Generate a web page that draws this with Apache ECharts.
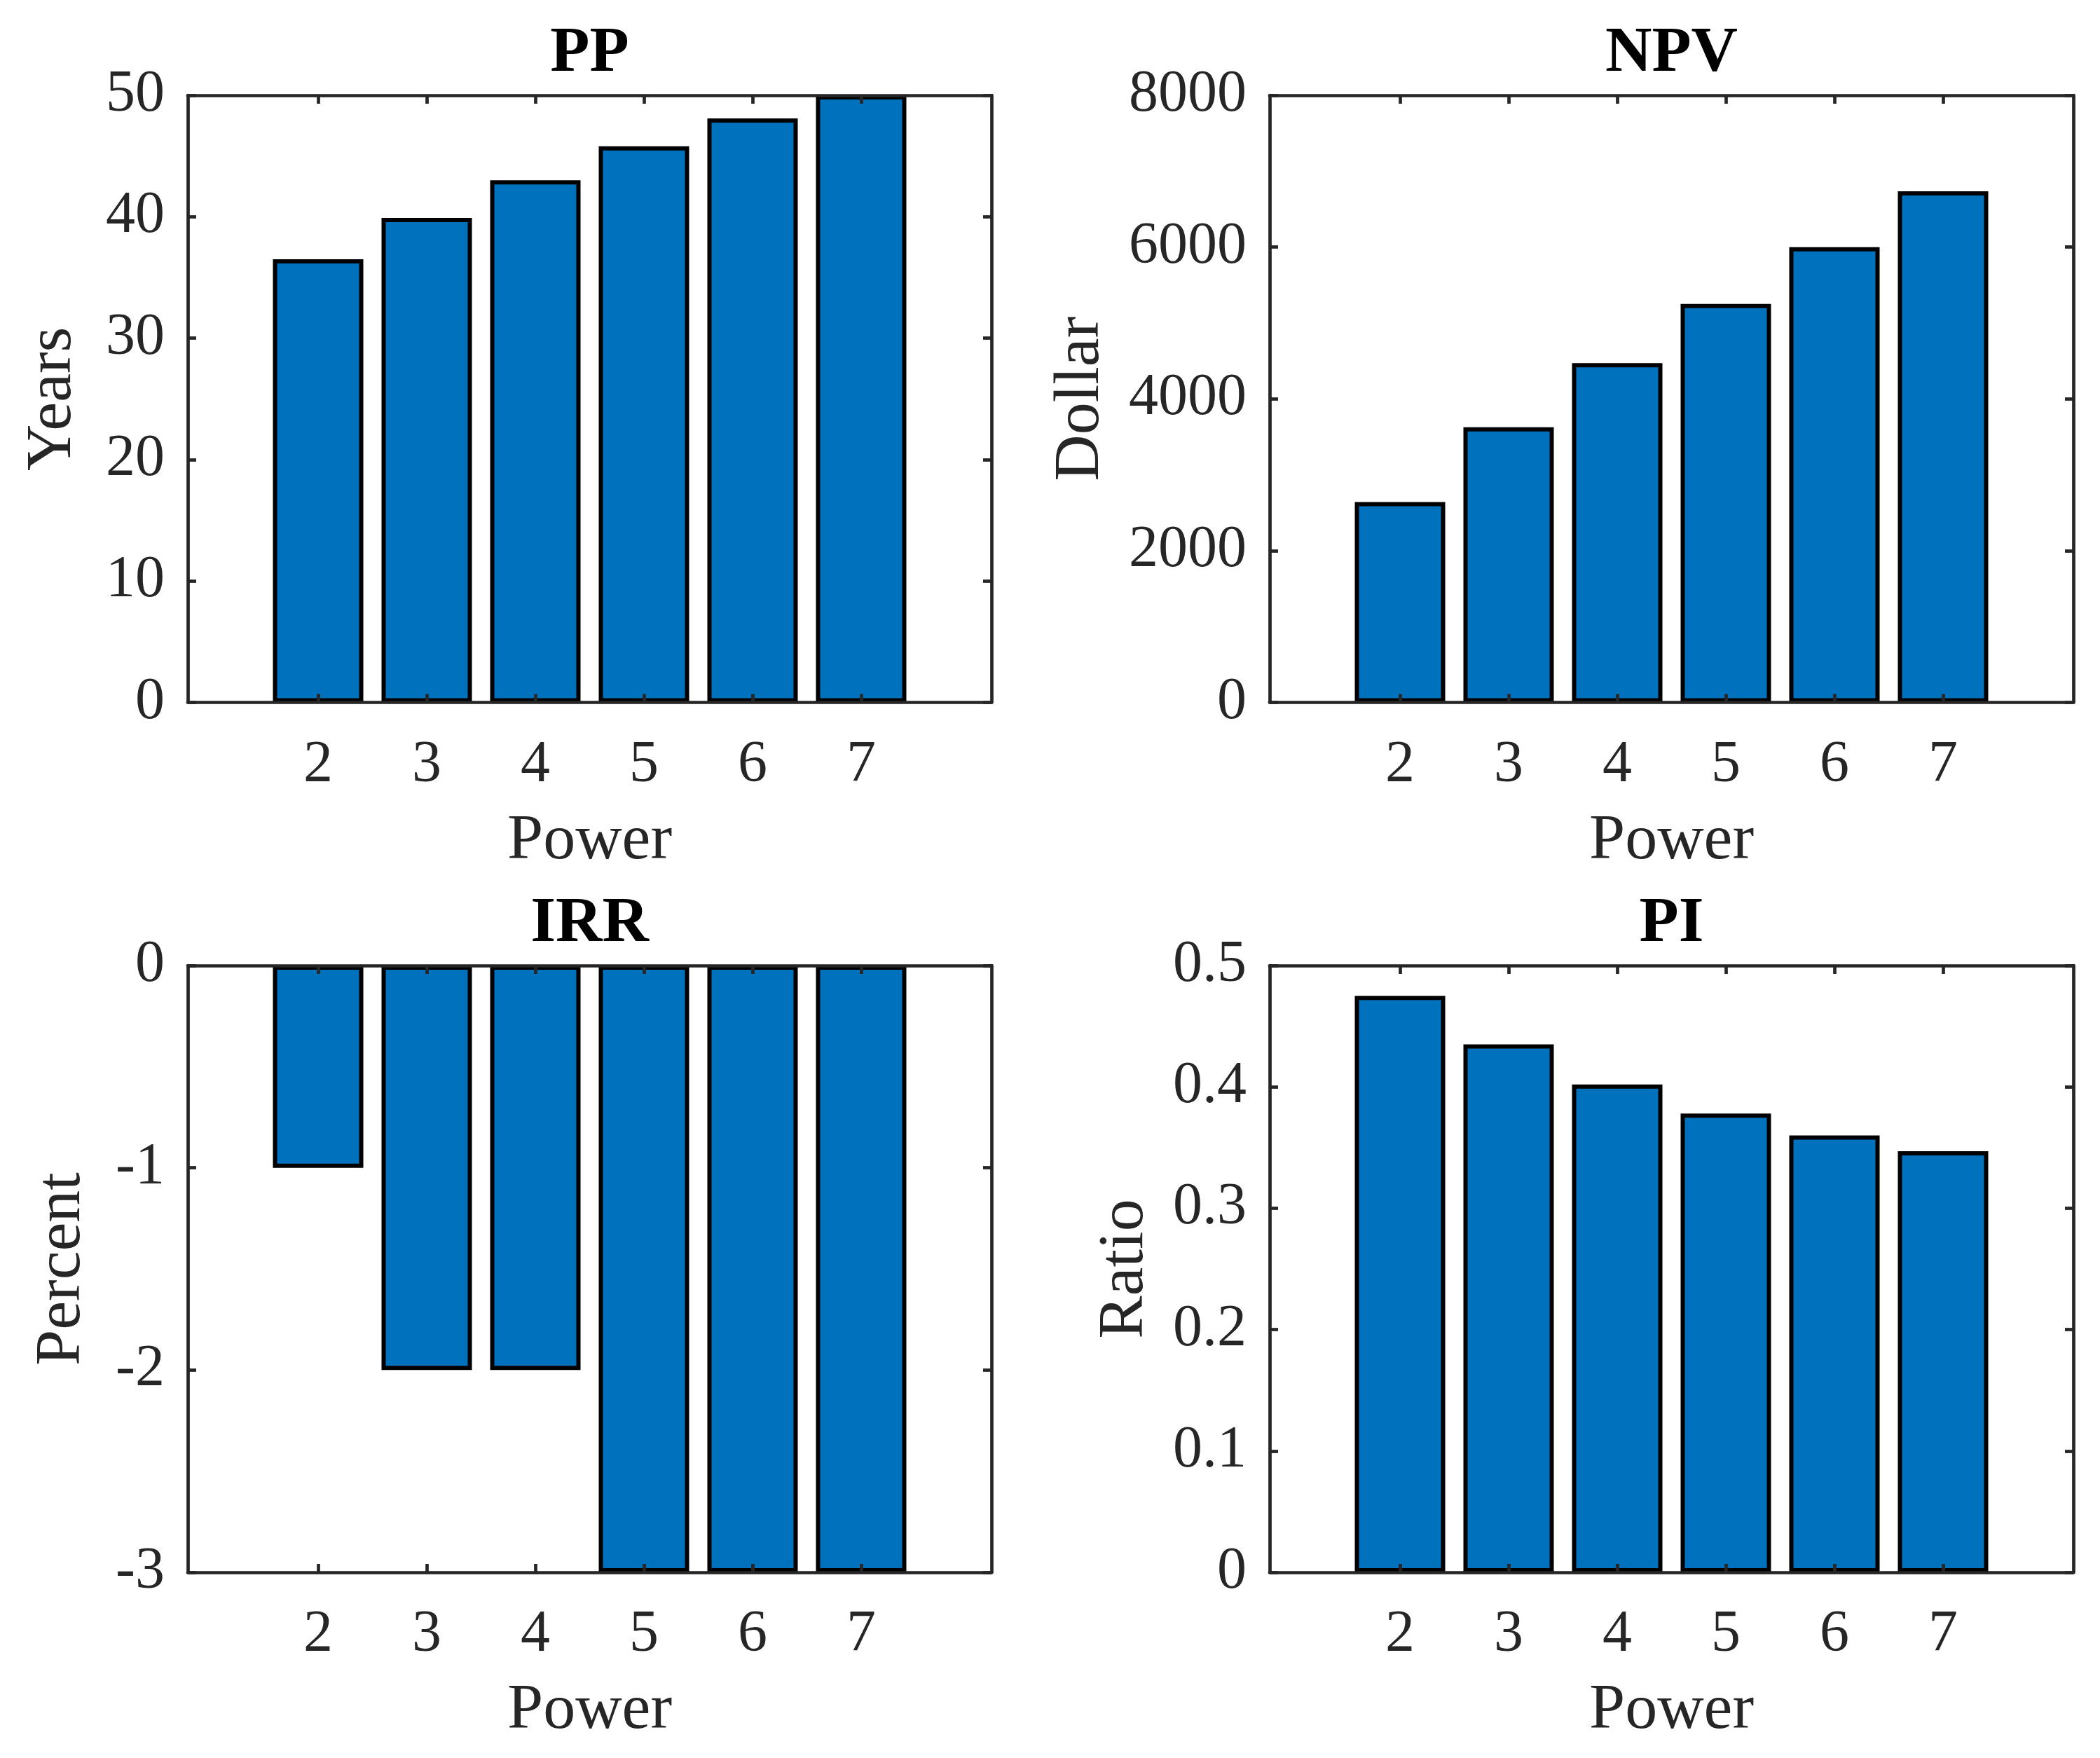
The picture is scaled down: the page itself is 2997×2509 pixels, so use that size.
<!DOCTYPE html>
<html>
<head>
<meta charset="utf-8">
<script src="https://cdn.jsdelivr.net/npm/echarts@6/dist/echarts.min.js"></script>
<style>
html,body{margin:0;padding:0;background:#fff;}
#chart{width:2997px;height:2509px;}
</style>
</head>
<body>
<div id="chart"></div>
<script>
// ---- data ----
const powers = [2, 3, 4, 5, 6, 7];
const ppYears = [36.5, 39.9, 43.0, 45.8, 48.1, 50];
const npvDollar = [2640, 3625, 4470, 5250, 6000, 6735];
const irrPercent = [-1, -2, -2, -3, -3, -3];
const piRatio = [0.475, 0.435, 0.402, 0.378, 0.360, 0.347];

const panelTitles = ['PP', 'NPV', 'IRR', 'PI'];
const yNames = ['Years', 'Dollar', 'Percent', 'Ratio'];
const xName = 'Power';
const yRanges = [[0, 50, 10], [0, 8000, 2000], [-3, 0, 1], [0, 0.5, 0.1]];
const panelValues = [ppYears, npvDollar, irrPercent, piRatio];

// ---- layout / style ----
const FONT = '"Liberation Serif", "Times New Roman", serif';
const AX = '#262626';
const AXW = 4.7;
const TICK = 84;
const LAB = 92;
const grids = [
  {left: 268, top: 136, width: 1147, height: 866.5},
  {left: 1812, top: 136, width: 1147, height: 866.5},
  {left: 268, top: 1378, width: 1147, height: 866},
  {left: 1812, top: 1378, width: 1147, height: 866}
];
const yNameGaps = [146, 223, 133, 160];
const titleTops = [26, 26, 1268, 1268];

function fmtNum(v) {
  const r = Math.round(v * 1e6) / 1e6;
  return String(r);
}

const xAxes = [], yAxes = [], series = [], titles = [];
grids.forEach((g, i) => {
  const common = {
    gridIndex: i, type: 'value', min: 0.8, max: 8.2, z: 10,
    splitLine: {show: false}
  };
  xAxes.push(Object.assign({}, common, {
    position: 'bottom',
    axisLine: {show: true, onZero: false, lineStyle: {color: AX, width: AXW}},
    axisTick: {show: true, inside: true, length: 12, customValues: powers, lineStyle: {color: AX, width: AXW}},
    axisLabel: {show: true, customValues: powers, margin: 48, fontSize: TICK, fontFamily: FONT, color: AX, formatter: fmtNum},
    name: xName, nameLocation: 'middle', nameGap: 152, nameMoveOverlap: false,
    nameTextStyle: {fontSize: LAB, fontFamily: FONT, color: AX}
  }));
  xAxes.push(Object.assign({}, common, {
    position: 'top',
    axisLine: {show: true, onZero: false, lineStyle: {color: AX, width: AXW}},
    axisTick: {show: true, inside: true, length: 12, customValues: powers, lineStyle: {color: AX, width: AXW}},
    axisLabel: {show: false}
  }));
  const r = yRanges[i];
  const ycommon = {
    gridIndex: i, type: 'value', min: r[0], max: r[1], interval: r[2], z: 10,
    splitLine: {show: false}
  };
  yAxes.push(Object.assign({}, ycommon, {
    position: 'left',
    axisLine: {show: true, onZero: false, lineStyle: {color: AX, width: AXW}},
    axisTick: {show: true, inside: true, length: 12, lineStyle: {color: AX, width: AXW}},
    axisLabel: {show: true, margin: 33, fontSize: TICK, fontFamily: FONT, color: AX, formatter: fmtNum},
    name: yNames[i], nameLocation: 'middle', nameGap: yNameGaps[i], nameMoveOverlap: false,
    nameTextStyle: {fontSize: LAB, fontFamily: FONT, color: AX}
  }));
  yAxes.push(Object.assign({}, ycommon, {
    position: 'right',
    axisLine: {show: true, onZero: false, lineStyle: {color: AX, width: AXW}},
    axisTick: {show: true, inside: true, length: 12, lineStyle: {color: AX, width: AXW}},
    axisLabel: {show: false}
  }));
  series.push({
    type: 'bar',
    xAxisIndex: 2 * i, yAxisIndex: 2 * i,
    data: powers.map((p, k) => [p, panelValues[i][k]]),
    barWidth: 129,
    itemStyle: {color: '#0072BD', borderColor: '#000', borderWidth: 6},
    clip: true,
    silent: true,
    animation: false
  });
  titles.push({
    text: panelTitles[i],
    left: g.left + g.width / 2 - 5,
    top: titleTops[i],
    textAlign: 'center',
    textVerticalAlign: 'top',
    textStyle: {fontSize: LAB, fontWeight: 'bold', fontFamily: FONT, color: '#000'}
  });
});

const chart = echarts.init(document.getElementById('chart'), null, {renderer: 'canvas'});
chart.setOption({
  backgroundColor: '#fff',
  animation: false,
  title: titles,
  grid: grids,
  xAxis: xAxes,
  yAxis: yAxes,
  series: series
});
</script>
</body>
</html>
